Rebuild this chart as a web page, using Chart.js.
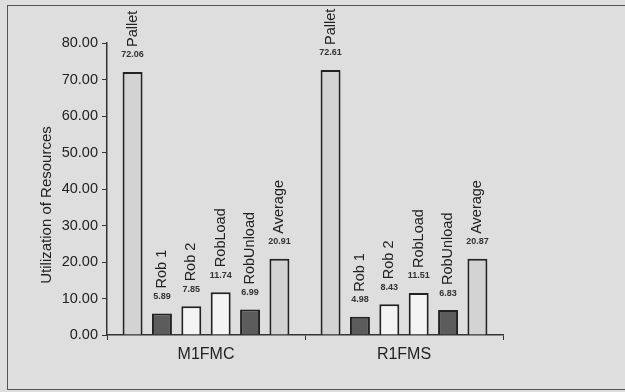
<!DOCTYPE html>
<html>
<head>
<meta charset="utf-8">
<script src="https://cdn.jsdelivr.net/npm/chart.js@4/dist/chart.umd.min.js"></script>
<style>
  body { margin: 0; background: #dedede; }
  #wrap { position: relative; width: 625px; height: 392px; }
  #frame { position: absolute; left: 7px; top: 5px; width: 640px; height: 385px; border: 1px solid #555; box-sizing: border-box; }
  canvas { position: absolute; left: 0; top: 0; }
</style>
</head>
<body>
<div id="wrap">
  <div id="frame"></div>
  <canvas id="chart" width="625" height="392"></canvas>
</div>
<script>
const categories = ["M1FMC", "R1FMS"];
const seriesNames = ["Pallet", "Rob 1", "Rob 2", "RobLoad", "RobUnload", "Average"];
const pallet = [72.06, 72.61];
const rob1 = [5.89, 4.98];
const rob2 = [7.85, 8.43];
const robLoad = [11.74, 11.51];
const robUnload = [6.99, 6.83];
const average = [20.91, 20.87];
const yTicks = [0, 10, 20, 30, 40, 50, 60, 70, 80];
const yTitle = "Utilization of Resources";

const seriesValues = [pallet, rob1, rob2, robLoad, robUnload, average];
const fills = ["#d3d3d3", "#5c5c5c", "#f4f4f4", "#f4f4f4", "#5c5c5c", "#d3d3d3"];

// names above each bar, rotated, with the value just under them
const barLabels = {
  id: "barLabels",
  afterDatasetsDraw(chart) {
    const ctx = chart.ctx;
    chart.data.datasets.forEach((ds, i) => {
      chart.getDatasetMeta(i).data.forEach((bar, j) => {
        const vy = bar.y - 17;
        ctx.save();
        ctx.fillStyle = "#333";
        ctx.font = "bold 9px Arial";
        ctx.textAlign = "center";
        ctx.textBaseline = "middle";
        ctx.fillText(ds.data[j].toFixed(2), bar.x, vy);
        ctx.translate(bar.x, vy - 8);
        ctx.rotate(-Math.PI / 2);
        ctx.font = "14.5px Arial";
        ctx.fillStyle = "#222";
        ctx.textAlign = "left";
        ctx.fillText(ds.label, 0, 0);
        ctx.restore();
      });
    });
    // y title sits a bit below the middle of the axis in the original
    const y = chart.scales.y;
    ctx.save();
    ctx.translate(y.left + 17, (y.top + y.bottom) / 2 + 16);
    ctx.rotate(-Math.PI / 2);
    ctx.font = "15px Arial";
    ctx.fillStyle = "#222";
    ctx.textAlign = "center";
    ctx.textBaseline = "middle";
    ctx.fillText(yTitle, 0, 0);
    ctx.restore();
  }
};

new Chart(document.getElementById("chart"), {
  type: "bar",
  data: {
    labels: categories,
    datasets: seriesNames.map((name, i) => ({
      label: name,
      data: seriesValues[i],
      backgroundColor: fills[i],
      borderColor: "#222",
      borderWidth: 2,
      categoryPercentage: 0.89,
      barPercentage: 0.68
    }))
  },
  options: {
    responsive: false,
    animation: false,
    layout: { padding: { left: 30, top: 43, right: 122, bottom: 0 } },
    plugins: { legend: { display: false }, tooltip: { enabled: false } },
    scales: {
      x: {
        afterFit: s => { s.height = 57; },
        border: { color: "#333", width: 1.5 },
        grid: { offset: true, drawOnChartArea: false, color: "#333", tickLength: 5 },
        ticks: { color: "#222", font: { family: "Arial", size: 16 }, padding: 5 }
      },
      y: {
        min: 0,
        max: 80,
        afterFit: s => { s.width = 77; },
        afterBuildTicks: s => { s.ticks = yTicks.map(v => ({ value: v })); },
        border: { color: "#333", width: 1.5 },
        grid: { drawOnChartArea: false, color: "#333", tickLength: 5 },
        ticks: { color: "#222", font: { family: "Arial", size: 14.5 }, padding: 4, callback: v => v.toFixed(2) }
      }
    }
  },
  plugins: [barLabels]
});
</script>
</body>
</html>
